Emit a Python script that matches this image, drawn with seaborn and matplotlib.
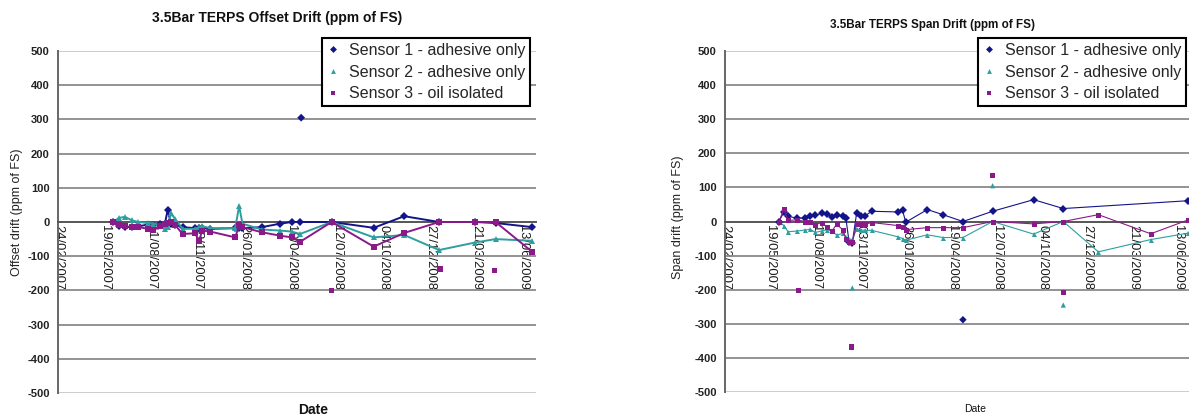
import numpy as np
import pandas as pd
import matplotlib
matplotlib.use("Agg")
import matplotlib.pyplot as plt
from matplotlib.lines import Line2D
import seaborn as sns

sns.set_theme(style="white")
plt.rcParams['font.family'] = ['Liberation Sans', 'DejaVu Sans']

nan = np.nan
sensor_names = ["Sensor 1 - adhesive only", "Sensor 2 - adhesive only", "Sensor 3 - oil isolated"]
sensor_colors = ["#14148A", "#2E9E9E", "#8A1A8A"]
sensor_markers = ["D", "^", "s"]

x_tick_labels = ["24/02/2007", "19/05/2007", "11/08/2007", "03/11/2007", "26/01/2008",
                 "19/04/2008", "12/07/2008", "04/10/2008", "27/12/2008", "21/03/2009", "13/06/2009"]
y_ticks = [-500, -400, -300, -200, -100, 0, 100, 200, 300, 400, 500]

# ---------------- Offset drift (left) ----------------
offset_dates = ["2007-06-04", "2007-06-14", "2007-06-25", "2007-07-07", "2007-07-19", "2007-08-06",
                "2007-08-15", "2007-08-27", "2007-09-05", "2007-09-10", "2007-09-16", "2007-09-23",
                "2007-10-07", "2007-10-29", "2007-11-06", "2007-11-11", "2007-11-26", "2008-01-10",
                "2008-01-17", "2008-01-23", "2008-02-27", "2008-03-31", "2008-04-21", "2008-05-06",
                "2008-07-02", "2008-09-16", "2008-11-10", "2009-01-12", "2009-03-18", "2009-04-24",
                "2009-06-29"]
offset_s1 = [0, -12, -15, -15, -12, -8, -8, -5, -5, 35, -5, -8, -15, -18, -18, -18, -20, -18,
             -18, -18, -15, -5, 0, 0, 0, -17, 17, 0, 0, -3, -15]
offset_s2 = [0, 12, 15, 5, 0, -3, -5, -8, -20, -15, 25, 10, -20, -20, -15, -12, -18, -18,
             47, -5, -22, -25, -28, -35, 0, -45, -38, -82, -60, -50, -55]
offset_s3 = [0, -8, -12, -15, -15, -20, -22, -12, -5, -3, 0, -8, -35, -33, -55, -25, -28, -45,
             -10, -15, -30, -40, -45, -58, 0, -72, -32, 0, 0, 0, -87]
offset_out_dates = ["2008-05-08", "2008-07-02", "2009-01-14", "2009-04-22"]
offset_out_sensor = [0, 2, 2, 2]
offset_out_values = [305, -200, -138, -142]

# ---------------- Span drift (right) ----------------
span_dates = ["2007-06-04", "2007-06-13", "2007-06-21", "2007-07-07", "2007-07-22", "2007-08-01",
              "2007-08-10", "2007-08-22", "2007-09-01", "2007-09-10", "2007-09-19", "2007-09-30",
              "2007-10-06", "2007-10-12", "2007-10-18", "2007-10-26", "2007-11-03", "2007-11-11",
              "2007-11-23", "2008-01-11", "2008-01-19", "2008-01-25", "2008-03-05", "2008-04-03",
              "2008-05-10", "2008-07-04", "2008-09-18", "2008-11-12", "2009-01-16", "2009-04-23",
              "2009-07-02"]
span_s1 = [0, 27, 15, 10, 10, 15, 18, 24, 22, 12, 18, 16, 10, -60, -62, 25, 17, 17, 30, 28, 33,
           -2, 35, 20, 0, 30, 64, 38, nan, nan, 61]
span_s2 = [0, -12, -30, -28, -25, -23, -32, -28, -24, -28, -40, -35, -45, -50, -55, -21, -25, -26,
           -26, -45, -50, -55, -39, -47, -47, 0, -37, 0, -89, -53, -34]
span_s3 = [0, 36, 3, 5, 0, 0, -10, -3, -16, -28, -8, -24, -50, -59, -60, -7, -8, -8, -3, -12, -16,
           -24, -18, -18, -18, 0, -7, 0, 20, -36, 5]
span_out_dates = ["2008-05-10", "2007-10-18", "2008-07-04", "2008-11-12", "2007-07-10",
                  "2007-10-17", "2008-07-04", "2008-11-12"]
span_out_sensor = [0, 1, 1, 1, 2, 2, 2, 2]
span_out_values = [-288, -195, 105, -245, -202, -368, 134, -208]

W, H = 1189, 417
fig = plt.figure(figsize=(W / 100, H / 100), dpi=100)
fig.patch.set_facecolor("white")


def build(dates, series):
    frames = []
    for name, vals in zip(sensor_names, series):
        frames.append(pd.DataFrame({"date": pd.to_datetime(dates), "value": vals, "sensor": name}))
    return pd.concat(frames, ignore_index=True).dropna()


def draw(ax, dates, series, out_dates, out_sensor, out_values, lw, ms, xmax):
    df = build(dates, series)
    pal = dict(zip(sensor_names, sensor_colors))
    mk = dict(zip(sensor_names, sensor_markers))
    sns.lineplot(data=df, x="date", y="value", hue="sensor", style="sensor", palette=pal,
                 markers=mk, dashes=False, errorbar=None, legend=False, ax=ax,
                 linewidth=lw, markersize=ms, markeredgewidth=0, zorder=3)
    odf = pd.DataFrame({"date": pd.to_datetime(out_dates), "value": out_values,
                        "sensor": [sensor_names[i] for i in out_sensor]})
    sns.scatterplot(data=odf, x="date", y="value", hue="sensor", style="sensor", palette=pal,
                    markers=mk, s=ms ** 2 * 1.1, linewidth=0, legend=False, ax=ax, zorder=3)
    # spine placement first (it resets tick objects)
    ax.spines["bottom"].set_position(("data", 0))
    ax.spines["bottom"].set_color("#555555")
    ax.spines["bottom"].set_linewidth(1.4)
    ax.spines["left"].set_color("#666666")
    ax.spines["left"].set_linewidth(1.4)
    ax.spines["top"].set_visible(False)
    ax.spines["right"].set_visible(False)
    ax.set_xlim(pd.Timestamp("2007-02-24"), pd.Timestamp(xmax))
    ax.set_ylim(-500, 500)
    ax.set_yticks(y_ticks)
    ax.set_yticklabels([str(v) for v in y_ticks], fontsize=8, fontweight="bold",
                       color="#222222")
    ticks = pd.to_datetime(x_tick_labels, format="%d/%m/%Y")
    ax.set_xticks(ticks)
    ax.set_xticklabels(x_tick_labels, rotation=-90, fontsize=9.3, color="#1a1a1a")
    ax.set_xlabel("")
    ax.set_ylabel("")
    for v in y_ticks:
        if v != 0:
            ax.axhline(v, color="#8a8a8a" if v not in (500, -500) else "#c8c8c8",
                       lw=1.3, zorder=1)
    ax.tick_params(axis="y", direction="out", length=4, width=1, color="#666666", pad=2)
    ax.tick_params(axis="x", direction="out", length=2, width=1, color="#555555", pad=0.5)
    ax.set_facecolor("white")
    ax.grid(False)


ax1 = fig.add_axes([58 / W, (H - 393) / H, (536 - 58) / W, 342 / H])
draw(ax1, offset_dates, [offset_s1, offset_s2, offset_s3], offset_out_dates, offset_out_sensor,
     offset_out_values, lw=1.4, ms=3.8, xmax="2009-07-06")

ax2 = fig.add_axes([725 / W, (H - 392) / H, (1189 - 725) / W, 341 / H])
draw(ax2, span_dates, [span_s1, span_s2, span_s3], span_out_dates, span_out_sensor,
     span_out_values, lw=0.8, ms=3.6, xmax="2009-07-03")

# titles and axis labels
fig.text(277 / W, 1 - 18 / H, "3.5Bar TERPS Offset Drift (ppm of FS)", ha="center", va="center",
         fontsize=10, fontweight="bold", color="#111111")
fig.text(933 / W, 1 - 25 / H, "3.5Bar TERPS Span Drift (ppm of FS)", ha="center", va="center",
         fontsize=8.4, fontweight="bold", color="#111111")
fig.text(17 / W, 1 - 212 / H, "Offset drift (ppm of FS)", rotation=90, ha="center", va="center",
         fontsize=9, color="#222222")
fig.text(678 / W, 1 - 217 / H, "Span drift (ppm of FS)", rotation=90, ha="center", va="center",
         fontsize=9, color="#222222")
fig.text(313 / W, 1 - 410 / H, "Date", ha="center", va="center", fontsize=10, fontweight="bold",
         color="#111111")
fig.text(975 / W, 1 - 409 / H, "Date", ha="center", va="center", fontsize=7.5, color="#111111")

handles = [Line2D([], [], linestyle="none", marker=m, color=c, markersize=3.5, markeredgewidth=0)
           for m, c in zip(sensor_markers, sensor_colors)]
for ax, x0 in ((ax1, 322), (ax2, 978)):
    leg = ax.legend(handles, sensor_names, loc="upper left", bbox_to_anchor=(x0 / W, 1 - 38 / H),
                    bbox_transform=fig.transFigure, frameon=True, fancybox=False,
                    edgecolor="black", framealpha=1, fontsize=11.5, handlelength=0.8,
                    handletextpad=0.6, borderpad=0.3, labelspacing=0.42, borderaxespad=0)
    leg.get_frame().set_linewidth(1.5)
    leg.set_zorder(10)

fig.savefig("out.png", dpi=100, facecolor="white")
